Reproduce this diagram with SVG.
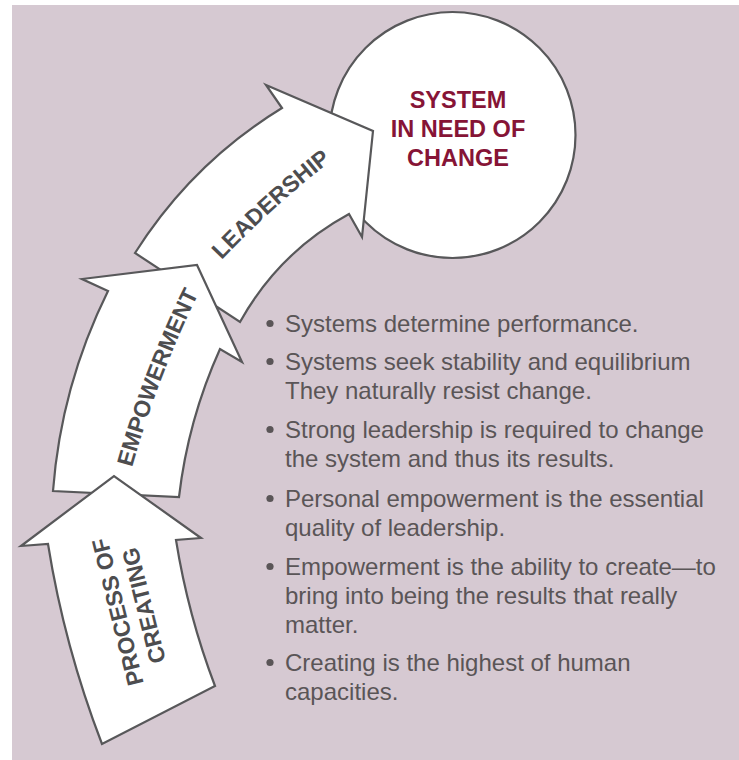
<svg xmlns="http://www.w3.org/2000/svg" width="739" height="760" viewBox="0 0 739 760">
<style>
.shape{fill:#fff;stroke:#58585a;stroke-width:2.2;stroke-linejoin:miter}
.lbl{font-family:"Liberation Sans",Arial,sans-serif;font-weight:bold;font-size:23px;fill:#4d4d4f;text-anchor:middle}
.sys{font-family:"Liberation Sans",Arial,sans-serif;font-weight:bold;font-size:23.5px;fill:#861436;text-anchor:middle}
.bt{font-family:"Liberation Sans",Arial,sans-serif;font-size:24px;fill:#5a5557}
.dot{fill:#5a5557}
</style>
<defs>
<path id="pEmp" d="M127.7,483.7 Q155.8,376.7 206.3,278.3"/>
<path id="pLead" d="M204,279 Q271,205 352,145"/>
</defs>
<rect x="12" y="5" width="727" height="755" fill="#d6c9d2"/>
<g id="system">
<circle class="shape" cx="452.5" cy="135" r="123"/>
<text class="sys" x="458" y="108">SYSTEM</text>
<text class="sys" x="458" y="137">IN NEED OF</text>
<text class="sys" x="458" y="166">CHANGE</text>
</g>
<g id="connectors">
<g id="leadership">
<path class="shape" d="M135,253 Q192,163 282,108 L266,85 L373,131 L362,237 L349,214 Q279,252 240,322 Z"/>
<text class="lbl"><textPath href="#pLead" startOffset="50%">LEADERSHIP</textPath></text>
</g>
<g id="empowerment">
<path class="shape" d="M53,491 Q61,386 108,291 L82,279 L197,265 L242,362 L220,349 Q188,420 179,497 Z"/>
<text class="lbl"><textPath href="#pEmp" startOffset="50%">EMPOWERMENT</textPath></text>
</g>
<g id="process">
<path class="shape" d="M102,744 Q64.4,646.4 48,544 L21,546 L114,476 L201,538 L176,540 Q188,615 215,686 Z"/>
<g transform="translate(138,607) rotate(-104)">
<text class="lbl" x="0" y="-13">PROCESS OF</text>
<text class="lbl" x="0" y="14">CREATING</text>
</g>
</g>
</g>
<g id="bullets">
<circle class="dot" cx="270" cy="323.5" r="3.6"/>
<circle class="dot" cx="270" cy="361.5" r="3.6"/>
<circle class="dot" cx="270" cy="429.5" r="3.6"/>
<circle class="dot" cx="270" cy="498.5" r="3.6"/>
<circle class="dot" cx="270" cy="566.5" r="3.6"/>
<circle class="dot" cx="270" cy="662.5" r="3.6"/>
<text class="bt" x="285" y="332">Systems determine performance.</text>
<text class="bt" x="285" y="370">Systems seek stability and equilibrium</text>
<text class="bt" x="285" y="399">They naturally resist change.</text>
<text class="bt" x="285" y="438">Strong leadership is required to change</text>
<text class="bt" x="285" y="467">the system and thus its results.</text>
<text class="bt" x="285" y="507">Personal empowerment is the essential</text>
<text class="bt" x="285" y="536">quality of leadership.</text>
<text class="bt" x="285" y="575">Empowerment is the ability to create—to</text>
<text class="bt" x="285" y="604">bring into being the results that really</text>
<text class="bt" x="285" y="633">matter.</text>
<text class="bt" x="285" y="671">Creating is the highest of human</text>
<text class="bt" x="285" y="700">capacities.</text>
</g>
</svg>
